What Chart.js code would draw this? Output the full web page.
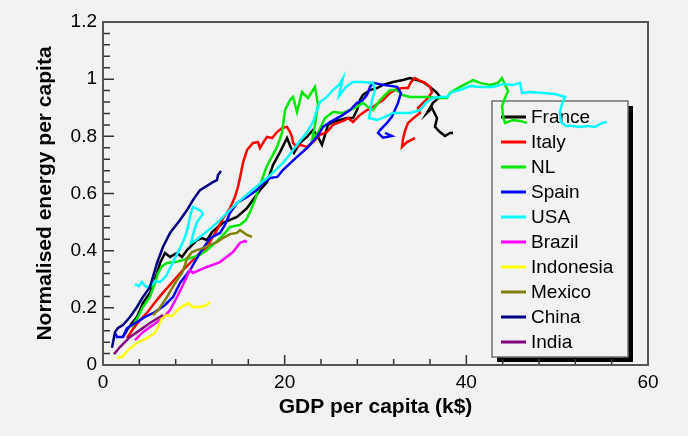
<!DOCTYPE html>
<html>
<head>
<meta charset="utf-8">
<script src="https://cdn.jsdelivr.net/npm/chart.js@4.4.0/dist/chart.umd.min.js"></script>
<style>
    html, body { margin: 0; padding: 0; background: #f2f2f2; }
</style>
</head>
<body>
<canvas id="myChart" width="688" height="436"></canvas>
<script>
// [GDP per capita (k$), normalised energy per capita]
var france = [[2.2,0.098],[2.64,0.122],[3.19,0.147],[3.74,0.168],[4.4,0.217],[4.84,0.238],[5.17,0.252],[5.95,0.322],[6.28,0.357],[6.83,0.392],
    [7.38,0.378],[8.15,0.392],[8.7,0.378],[9.25,0.402],[10.35,0.437],[10.9,0.444],[11.45,0.437],[12.0,0.465],[13.2,0.497],[14.75,0.518],
    [15.85,0.549],[16.5,0.577],[17.28,0.612],[18.06,0.64],[18.72,0.7],[19.49,0.745],[20.26,0.794],[20.7,0.759],[21.03,0.742],[21.69,0.777],
    [22.46,0.798],[23.12,0.822],[23.67,0.798],[24.11,0.77],[24.44,0.805],[24.77,0.84],[25.32,0.85],[26.09,0.857],[26.86,0.864],[27.52,0.864],
    [27.96,0.892],[28.29,0.927],[28.62,0.945],[29.4,0.962],[30.17,0.969],[30.83,0.98],[31.93,0.99],[33.03,0.997],[33.8,1.004],[34.57,0.997],
    [35.23,0.99],[36.0,0.973],[36.77,0.952],[37.1,0.938],[36.33,0.917],[35.67,0.882],[36.22,0.899],[36.77,0.864],[36.55,0.833],[37.1,0.815],
    [37.65,0.801],[38.2,0.812],[38.53,0.812]];
var italy = [[2.64,0.094],[3.3,0.126],[4.07,0.157],[4.84,0.182],[5.5,0.21],[6.28,0.241],[7.05,0.269],[7.93,0.301],[8.8,0.332],[9.9,0.367],
    [10.68,0.392],[11.45,0.413],[12.0,0.444],[12.55,0.472],[13.1,0.507],[13.98,0.549],[14.53,0.588],[14.86,0.623],[15.19,0.672],[15.41,0.707],
    [15.85,0.752],[16.51,0.777],[17.07,0.78],[17.28,0.759],[17.62,0.777],[18.06,0.798],[18.61,0.794],[19.16,0.815],[19.71,0.829],[20.26,0.833],
    [20.59,0.815],[20.81,0.798],[20.92,0.777],[21.36,0.763],[21.69,0.77],[22.46,0.763],[23.12,0.78],[23.89,0.805],[24.66,0.815],[25.32,0.84],
    [26.09,0.85],[26.64,0.857],[26.97,0.864],[27.52,0.85],[28.29,0.875],[29.07,0.892],[29.62,0.899],[30.17,0.913],[30.83,0.927],[31.6,0.952],
    [32.37,0.966],[33.03,0.969],[33.58,0.969],[33.91,0.99],[34.35,1.004],[34.9,0.994],[35.45,0.987],[36.0,0.973],[36.22,0.955],[35.78,0.934],
    [35.23,0.917],[34.68,0.899],[34.9,0.882],[34.35,0.868],[33.58,0.847],[33.25,0.819],[33.03,0.791],[32.92,0.763],[33.47,0.78],[33.91,0.787],
    [34.35,0.794]];
var nl = [[3.19,0.133],[3.85,0.168],[4.4,0.203],[5.17,0.238],[5.72,0.287],[6.06,0.322],[6.5,0.346],[7.05,0.357],[7.93,0.36],[8.8,0.367],
    [9.58,0.374],[10.68,0.385],[11.45,0.402],[12.11,0.42],[12.88,0.444],[13.43,0.462],[13.98,0.483],[15.08,0.49],[15.74,0.507],[16.18,0.535],
    [16.73,0.577],[17.07,0.612],[17.5,0.647],[17.95,0.689],[18.39,0.717],[19.16,0.763],[19.71,0.812],[20.04,0.892],[20.59,0.927],[20.92,0.938],
    [21.36,0.885],[21.91,0.955],[22.57,0.934],[23.34,0.973],[23.67,0.91],[23.34,0.84],[23.01,0.787],[23.67,0.812],[24.44,0.864],[25.32,0.885],
    [26.42,0.882],[27.96,0.903],[28.62,0.917],[29.18,0.903],[29.73,0.892],[30.5,0.927],[31.6,0.962],[32.37,0.962],[32.92,0.945],[33.8,0.938],
    [34.9,0.938],[36.0,0.938],[36.77,0.934],[37.87,0.934],[38.2,0.952],[39.3,0.973],[40.74,0.997],[41.5,0.987],[42.6,0.98],[43.49,0.987],
    [43.93,1.004],[44.26,0.98],[44.59,0.959],[44.26,0.934],[43.93,0.906],[44.04,0.871],[44.26,0.847],[45.14,0.857],[45.91,0.854],[46.68,0.847]];
var spain = [[1.32,0.112],[1.54,0.098],[2.2,0.098],[2.64,0.129],[3.19,0.14],[3.74,0.15],[4.62,0.168],[5.72,0.185],[6.83,0.21],[7.71,0.238],
    [8.48,0.287],[9.58,0.332],[10.68,0.392],[11.78,0.444],[12.88,0.462],[13.43,0.49],[13.98,0.532],[14.75,0.567],[15.85,0.588],[16.95,0.612],
    [17.6,0.637],[18.4,0.654],[19.2,0.658],[19.8,0.682],[21.36,0.728],[22.46,0.759],[23.56,0.798],[24.22,0.833],[25.0,0.85],[26.42,0.875],
    [27.2,0.892],[27.96,0.917],[28.6,0.927],[29.07,0.945],[29.4,0.973],[29.73,0.987],[30.83,0.98],[32.37,0.973],[32.8,0.952],[32.48,0.917],
    [31.8,0.868],[31.27,0.847],[30.5,0.822],[30.28,0.812],[30.83,0.795],[31.8,0.801],[31.05,0.812]];
var usa = [[3.52,0.283],[3.96,0.276],[4.29,0.29],[4.73,0.273],[5.28,0.276],[5.72,0.294],[6.28,0.29],[6.94,0.311],[7.38,0.339],[7.93,0.374],
    [8.48,0.409],[9.03,0.448],[9.36,0.483],[9.58,0.521],[9.9,0.553],[10.35,0.546],[10.79,0.539],[11.0,0.528],[10.35,0.5],[9.9,0.455],
    [9.69,0.427],[10.24,0.437],[11.23,0.462],[12.55,0.497],[14.31,0.553],[16.18,0.605],[18.06,0.654],[19.82,0.707],[21.36,0.77],[22.46,0.815],
    [23.12,0.85],[23.56,0.892],[23.89,0.92],[24.66,0.938],[25.32,0.962],[25.98,0.98],[26.42,1.004],[25.98,0.941],[26.75,0.973],[27.52,0.99],
    [28.51,0.99],[29.73,0.987],[29.95,0.962],[29.62,0.927],[29.29,0.864],[30.17,0.857],[31.05,0.868],[31.93,0.882],[33.8,0.882],[34.9,0.892],
    [35.67,0.92],[36.33,0.934],[37.1,0.938],[37.87,0.938],[38.42,0.955],[39.3,0.962],[40.41,0.976],[41.5,0.973],[42.94,0.973],[44.04,0.983],
    [45.14,0.98],[45.91,0.987],[46.13,0.952],[47.01,0.955],[48.44,0.952],[49.76,0.948],[50.86,0.938],[50.53,0.913],[50.31,0.885],[50.42,0.85],
    [50.97,0.836],[51.75,0.836],[52.52,0.833],[53.4,0.836],[54.17,0.833],[54.94,0.847],[55.49,0.85]];
var brazil = [[3.52,0.087],[4.4,0.115],[5.5,0.14],[6.6,0.164],[7.38,0.192],[8.15,0.238],[8.8,0.28],[9.58,0.332],[9.9,0.322],[11.45,0.343],
    [12.88,0.36],[14.31,0.395],[15.08,0.427],[15.63,0.434],[15.85,0.43]];
var indonesia = [[1.54,0.025],[2.09,0.028],[2.75,0.052],[3.74,0.077],[4.84,0.094],[5.72,0.112],[6.06,0.133],[6.5,0.164],[7.05,0.175],[7.6,0.171],
    [8.48,0.2],[9.36,0.217],[9.9,0.203],[10.68,0.203],[11.45,0.21],[11.78,0.22]];
var mexico = [[5.5,0.175],[6.06,0.192],[6.6,0.217],[7.05,0.238],[7.6,0.269],[8.15,0.297],[8.7,0.322],[9.03,0.35],[9.25,0.374],[9.8,0.395],
    [10.35,0.402],[11.0,0.409],[11.78,0.42],[12.55,0.43],[13.2,0.444],[13.98,0.458],[14.75,0.462],[15.08,0.472],[15.41,0.465],[15.85,0.455],
    [16.4,0.448]];
var china = [[0.99,0.06],[1.32,0.115],[1.65,0.13],[2.2,0.14],[2.97,0.168],[3.74,0.203],[4.4,0.238],[5.17,0.273],[5.5,0.308],[5.95,0.357],
    [6.6,0.413],[7.38,0.462],[8.48,0.507],[9.25,0.542],[9.9,0.577],[10.68,0.612],[12.1,0.64],[12.55,0.647],[12.66,0.665],[13.0,0.679]];
var india = [[1.21,0.038],[1.87,0.063],[2.97,0.098],[4.07,0.122],[5.17,0.147],[6.6,0.175]];

var countries = ['France', 'Italy', 'NL', 'Spain', 'USA', 'Brazil', 'Indonesia', 'Mexico', 'China', 'India'];
var series = [france, italy, nl, spain, usa, brazil, indonesia, mexico, china, india];
var colours = ['#000000', '#ff0000', '#00e600', '#0000ff', '#00ffff', '#ff00ff', '#ffff00', '#808000', '#000080', '#800080'];

var xTicks = [0, 20, 40, 60];

Chart.defaults.font.family = "'Liberation Sans', Arial, sans-serif";
Chart.defaults.color = '#000';

// page background, also behind the plot
var background = {
    id: 'background',
    beforeDraw: function (chart) {
        var ctx = chart.ctx;
        ctx.save();
        ctx.fillStyle = '#f2f2f2';
        ctx.fillRect(0, 0, chart.width, chart.height);
        ctx.restore();
    }
};

// legend box sits inside the plot, lines are drawn over it
var boxLegend = {
    id: 'boxLegend',
    beforeDatasetsDraw: function (chart) {
        var ctx = chart.ctx;
        var area = chart.chartArea;
        var x = area.right - 156, y = area.top + 79, w = 136, h = 256;
        ctx.save();
        ctx.fillStyle = '#000';
        ctx.fillRect(x + 5, y + 5, w, h);
        ctx.fillStyle = '#f2f2f2';
        ctx.fillRect(x, y, w, h);
        ctx.strokeStyle = '#707070';
        ctx.lineWidth = 1.5;
        ctx.strokeRect(x, y, w, h);
        ctx.font = "19px 'Liberation Sans', Arial, sans-serif";
        ctx.textBaseline = 'middle';
        chart.data.datasets.forEach(function (ds, i) {
            var ry = y + 16 + i * 25;
            ctx.strokeStyle = ds.borderColor;
            ctx.lineWidth = 3;
            ctx.beginPath();
            ctx.moveTo(x + 9, ry);
            ctx.lineTo(x + 34, ry);
            ctx.stroke();
            ctx.fillStyle = '#000';
            ctx.fillText(ds.label, x + 39, ry + 1);
        });
        ctx.restore();
    }
};

// frame round the plot and inward tick marks
var frame = {
    id: 'frame',
    afterDatasetsDraw: function (chart) {
        var ctx = chart.ctx;
        var area = chart.chartArea;
        var xs = chart.scales.x, ys = chart.scales.y;
        ctx.save();
        ctx.strokeStyle = '#333';
        ctx.lineWidth = 1.5;
        ctx.beginPath();
        for (var v = 4; v < 60; v += 4) {
            var px = xs.getPixelForValue(v);
            var len = v % 20 === 0 ? 10 : 6;
            ctx.moveTo(px, area.bottom);
            ctx.lineTo(px, area.bottom - len);
        }
        for (var i = 1; i < 30; i++) {
            var py = ys.getPixelForValue(i * 0.04);
            var len2 = i % 5 === 0 ? 11 : 7;
            ctx.moveTo(area.left, py);
            ctx.lineTo(area.left + len2, py);
        }
        ctx.stroke();
        ctx.strokeStyle = '#555';
        ctx.lineWidth = 2;
        ctx.strokeRect(area.left, area.top, area.right - area.left, area.bottom - area.top);
        ctx.restore();
    }
};

var datasets = countries.map(function (name, i) {
    return {
        label: name,
        data: series[i].map(function (p) { return { x: p[0], y: p[1] }; }),
        borderColor: colours[i],
        backgroundColor: colours[i],
        borderWidth: 2.5,
        showLine: true,
        pointRadius: 0,
        tension: 0,
        order: -i
    };
});

new Chart(document.getElementById('myChart').getContext('2d'), {
    type: 'scatter',
    data: { datasets: datasets },
    plugins: [background, boxLegend, frame],
    options: {
        responsive: false,
        animation: false,
        layout: { padding: { left: 0, top: 22, right: 40, bottom: 0 } },
        plugins: {
            legend: { display: false },
            tooltip: { enabled: false }
        },
        scales: {
            x: {
                type: 'linear',
                min: 0,
                max: 60,
                afterFit: function (scale) { scale.height = 71; },
                afterBuildTicks: function (scale) {
                    scale.ticks = xTicks.map(function (v) { return { value: v }; });
                },
                grid: { display: false, drawTicks: false },
                border: { display: false },
                ticks: { padding: 6, font: { size: 19 }, maxRotation: 0 },
                title: {
                    display: true,
                    text: 'GDP per capita (k$)',
                    font: { size: 21, weight: 'bold' },
                    padding: { top: 0, bottom: 16 }
                }
            },
            y: {
                type: 'linear',
                min: 0,
                max: 1.2,
                afterFit: function (scale) { scale.width = 103; },
                grid: { display: false, drawTicks: false },
                border: { display: false },
                ticks: {
                    stepSize: 0.2,
                    padding: 6,
                    font: { size: 19 },
                    callback: function (value) { return String(Number(value.toFixed(1))); }
                },
                title: {
                    display: true,
                    text: 'Normalised energy per capita',
                    font: { size: 21, weight: 'bold' },
                    padding: { top: 33, bottom: 0 }
                }
            }
        }
    }
});
</script>
</body>
</html>
